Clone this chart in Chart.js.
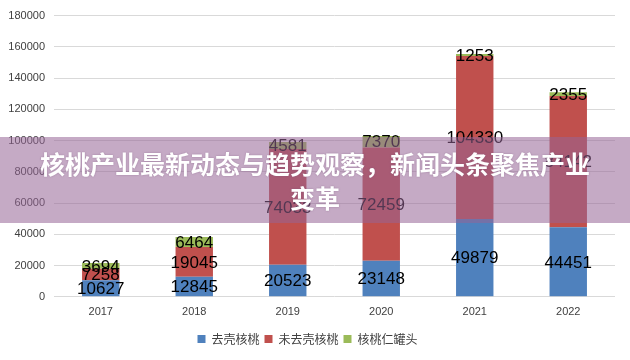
<!DOCTYPE html>
<html><head><meta charset="utf-8">
<script src="https://cdn.jsdelivr.net/npm/chart.js@4/dist/chart.umd.min.js"></script>
<style>
html,body{margin:0;padding:0;background:#fff;}
#wrap{position:relative;width:630px;height:360px;}
#banner{position:absolute;left:0;top:137px;width:630px;height:86px;background:rgba(150,100,150,0.55);
display:flex;align-items:center;justify-content:center;text-align:center;color:#fff;
font-family:"Noto Sans CJK SC","Noto Sans",sans-serif;font-weight:bold;font-size:25px;line-height:34px;
text-shadow:0 0 2px rgba(120,80,120,0.5);box-sizing:border-box;padding:0 30px;}
</style></head>
<body>
<div id="wrap">
<canvas id="c" width="630" height="360"></canvas>
<div id="banner">核桃产业最新动态与趋势观察，新闻头条聚焦产业变革</div>
</div>
<script>
const categories = ["2017","2018","2019","2020","2021","2022"];
const shelled = [10627,12845,20523,23148,49879,44451];
const unshelled = [7258,19045,74033,72459,104330,84142];
const canned = [3694,6464,4581,7370,1253,2355];
const seriesNames = ["去壳核桃","未去壳核桃","核桃仁罐头"];
const yTicks = {min:0,max:180000,step:20000};

const labelPlugin = {
  id:'barLabels',
  afterDatasetsDraw(chart){
    const ctx = chart.ctx;
    ctx.save();
    ctx.font = '17px "Liberation Sans", Arial, sans-serif';
    ctx.fillStyle = '#000';
    ctx.textAlign = 'center';
    ctx.textBaseline = 'middle';
    chart.data.datasets.forEach((ds,i)=>{
      const meta = chart.getDatasetMeta(i);
      meta.data.forEach((bar,j)=>{
        const y = (bar.y + bar.base)/2;
        ctx.fillText(String(ds.data[j]), bar.x, y+1);
      });
    });
    ctx.restore();
  }
};

new Chart(document.getElementById('c'),{
  type:'bar',
  data:{
    labels:categories,
    datasets:[
      {label:seriesNames[0],data:shelled,backgroundColor:'#4f81bd'},
      {label:seriesNames[1],data:unshelled,backgroundColor:'#c0504d'},
      {label:seriesNames[2],data:canned,backgroundColor:'#9bbb59'}
    ]
  },
  options:{
    responsive:false,
    animation:false,
    layout:{padding:{left:0,right:15,top:10,bottom:5}},
    datasets:{bar:{categoryPercentage:1,barPercentage:0.4}},
    scales:{
      x:{stacked:true,
        grid:{display:false,drawTicks:false},
        border:{display:false},
        ticks:{color:'#404040',font:{size:11,family:'"Liberation Sans", Arial, sans-serif'},padding:9}
      },
      y:{stacked:true,min:yTicks.min,max:yTicks.max,
        afterFit(s){s.width=54;},
        grid:{color:'#d9d9d9',drawTicks:false},
        border:{display:false},
        ticks:{stepSize:yTicks.step,color:'#404040',padding:9,
          font:{size:11,family:'"Liberation Sans", Arial, sans-serif'},
          callback:v=>String(v)}
      }
    },
    plugins:{
      legend:{position:'bottom',
        labels:{boxWidth:8,boxHeight:8,padding:5,color:'#404040',
          font:{size:12,family:'"Noto Sans CJK SC", sans-serif'}}},
      tooltip:{enabled:false}
    }
  },
  plugins:[labelPlugin]
});
</script>
</body></html>
